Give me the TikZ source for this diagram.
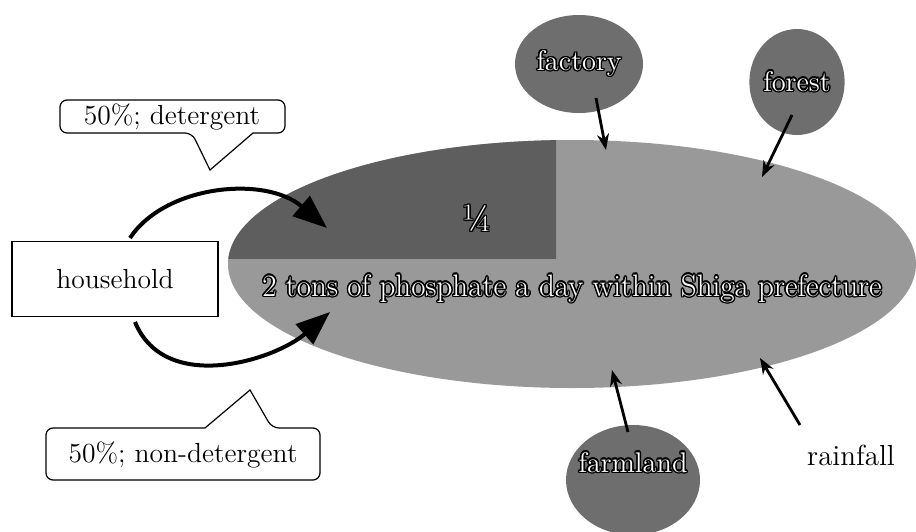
\documentclass[tikz,border=0pt]{standalone}
\usepackage{xcolor}
\usepackage{tikz}
\usetikzlibrary{positioning,arrows.meta,shapes.geometric}
\usepackage{contour}
\contourlength{0.7pt}
\definecolor{poolgray}{gray}{0.60}
\definecolor{quartergray}{gray}{0.37}
\definecolor{sourcegray}{gray}{0.43}

\begin{document}
\begin{tikzpicture}[
  x=0.5pt,y=-0.5pt,
  font=\fontsize{13.8}{16}\selectfont,
  pool/.style={ellipse,fill=poolgray,inner sep=0pt,minimum width=344pt,minimum height=124pt},
  source/.style={ellipse,fill=sourcegray,inner sep=0pt,text=white,
                 font=\fontsize{14.2}{16}\selectfont},
  house/.style={draw,line width=0.6pt,minimum width=103pt,minimum height=37.5pt,inner sep=2pt},
  note/.style={draw,line width=0.6pt,fill=white},
  inflow/.style={-{Stealth[length=8pt,width=6pt]},line width=1.4pt},
  share/.style={-{Triangle[length=17pt,width=13pt]},line width=2pt}
]
\useasboundingbox (0,0) rectangle (916,531);

\node[pool] (pool) at (572,264) {};
\begin{scope}
  \clip (200,120) rectangle (556,258);
  \fill[quartergray] (pool.center) ellipse [x radius=344, y radius=124];
\end{scope}
\node[text=white,font=\fontsize{19}{20}\selectfont] (quarter) at (477,219) {\contour{black}{¼}};
\node[text=white,font=\fontsize{15.5}{18}\selectfont] (amount) at (572,289)
  {\contour{black}{2 tons of phosphate a day within Shiga prefecture}};

\node[source,minimum width=64pt,minimum height=49pt] (factory) at (579,64) {\contour{black}{factory}};
\node[source,minimum width=46pt,minimum height=53pt] (forest) at (797,82) {\contour{black}{forest}};
\node[source,minimum width=67pt,minimum height=55pt] (farmland) at (633,480) {};
\node[text=white,font=\fontsize{14.2}{16}\selectfont] (farmlandtext) at (633,463) {\contour{black}{farmland}};
\node[font=\fontsize{14.5}{16}\selectfont] (rainfall) at (851,455) {rainfall};

\coordinate (factoryin) at (606,150);
\coordinate (forestin) at (762,177);
\coordinate (farmlandin) at (612,370);
\coordinate (rainfallin) at (760,358);
\coordinate (detergentin) at (327,228);
\coordinate (nondetergentin) at (330,312);

\draw[inflow] (factory) ++(17,34) -- (factoryin);
\draw[inflow] (forest) ++(-5,33) -- (forestin);
\draw[inflow] (farmland) ++(-5,-48) -- (farmlandin);
\draw[inflow] (rainfall) ++(-51,-30) -- (rainfallin);

\node[house] (household) at (115,279) {household};
\draw[share] (household) ++(15,-41) .. controls (165,185) and (265,175) .. (detergentin);
\draw[share] (household) ++(20,43) .. controls (165,395) and (275,360) .. (nondetergentin);

\draw[note] (210,170) -- (253,133) [rounded corners=3.5pt] -- (285,133) -- (285,100)
  -- (60,100) -- (60,133) -- (192,133) [sharp corners] -- cycle;
\node (detergentnote) at (172,117) {50\%; detergent};
\draw[note] (250,390) -- (205,428) [rounded corners=3.5pt] -- (46,428) -- (46,480)
  -- (320,480) -- (320,428) -- (272,428) [sharp corners] -- cycle;
\node (nondetergentnote) at (183,455) {50\%; non-detergent};
\end{tikzpicture}
\end{document}
